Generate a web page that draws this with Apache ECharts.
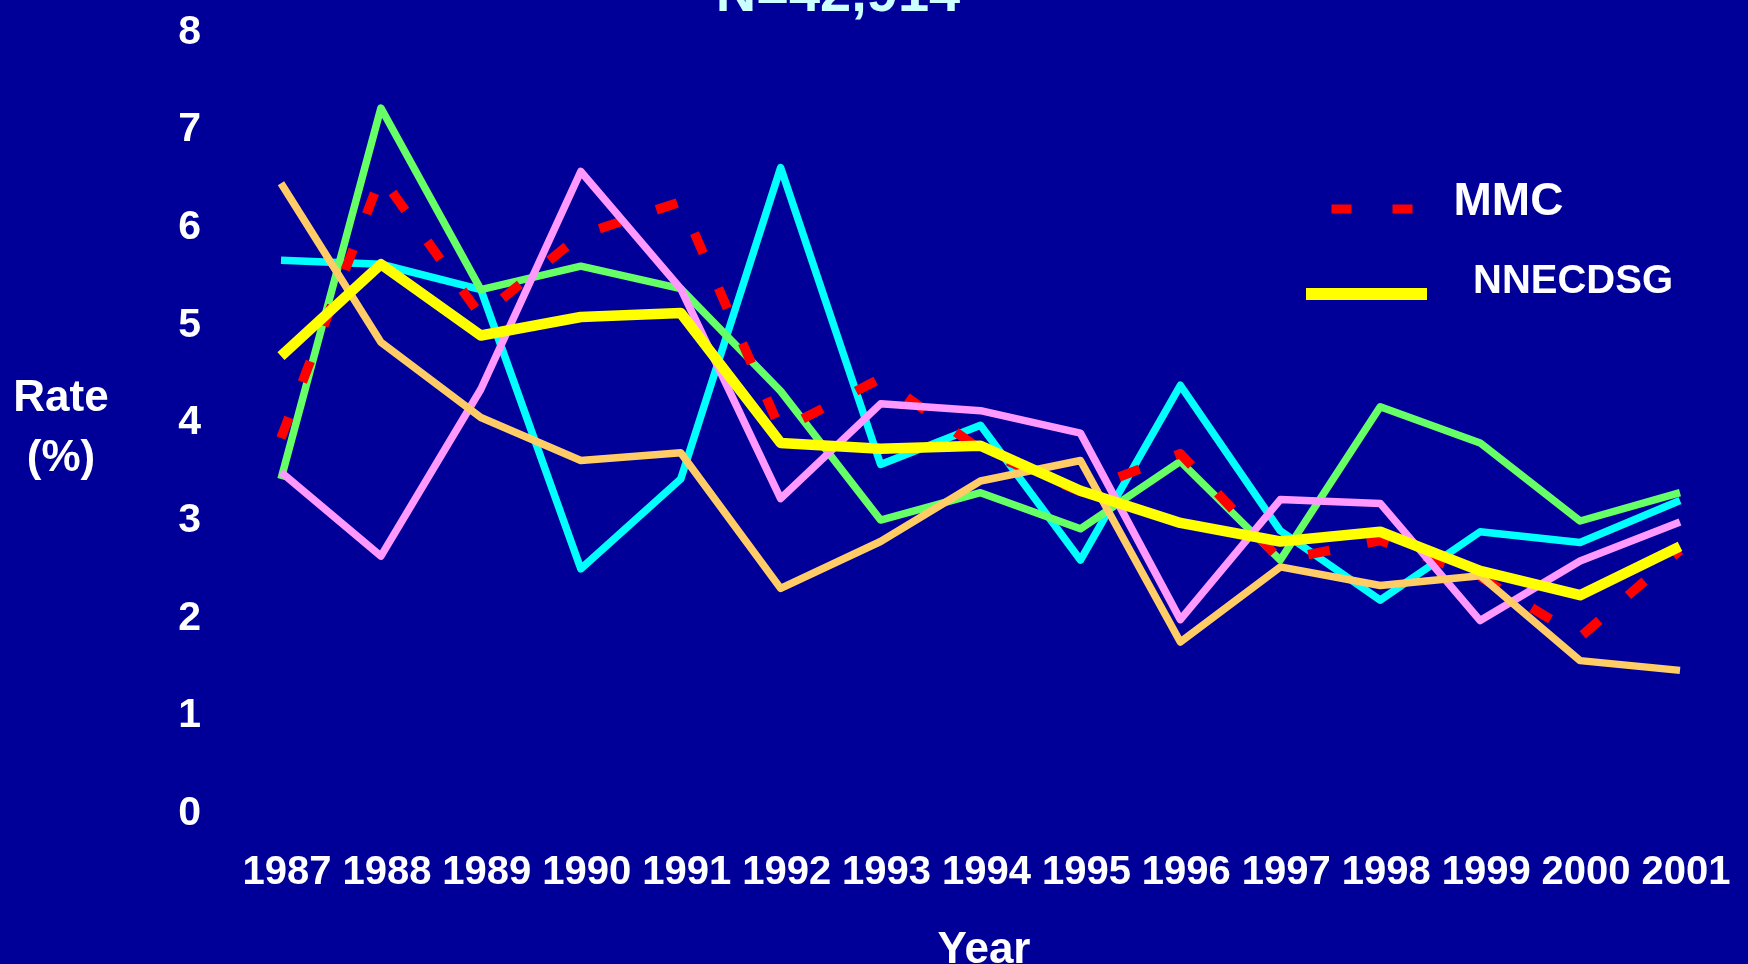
<!DOCTYPE html>
<html>
<head>
<meta charset="utf-8">
<script src="https://cdn.jsdelivr.net/npm/echarts@6/dist/echarts.min.js"></script>
<style>
html,body{margin:0;padding:0;background:#000099;}
#chart{width:1748px;height:964px;}
</style>
</head>
<body>
<div id="chart"></div>
<script>
// ---- data ----
const years = ['1987','1988','1989','1990','1991','1992','1993','1994','1995','1996','1997','1998','1999','2000','2001'];
const yTicks = [0, 1, 2, 3, 4, 5, 6, 7, 8];
const cyanValues   = [5.62, 5.58, 5.32, 2.46, 3.38, 6.57, 3.53, 3.93, 2.55, 4.34, 2.85, 2.14, 2.84, 2.73, 3.16];
const greenValues  = [3.38, 7.18, 5.32, 5.56, 5.33, 4.28, 2.96, 3.24, 2.87, 3.56, 2.55, 4.12, 3.75, 2.95, 3.24];
const pinkValues   = [3.45, 2.59, 4.30, 6.53, 5.33, 3.18, 4.15, 4.08, 3.85, 1.94, 3.17, 3.13, 1.93, 2.54, 2.94];
const orangeValues = [6.41, 4.78, 4.01, 3.57, 3.65, 2.26, 2.74, 3.36, 3.57, 1.71, 2.48, 2.29, 2.39, 1.52, 1.42];
const mmcValues    = [3.80, 6.48, 5.05, 5.88, 6.22, 3.88, 4.41, 3.68, 3.25, 3.64, 2.55, 2.75, 2.38, 1.76, 2.65];
const nnecdsgValues= [4.64, 5.58, 4.85, 5.04, 5.08, 3.75, 3.69, 3.72, 3.26, 2.93, 2.74, 2.84, 2.44, 2.19, 2.69];
const titleText = 'N=42,914';
const legendNames = ['MMC', 'NNECDSG'];

// ---- chart ----
const chart = echarts.init(document.getElementById('chart'));
const FONT = "'Liberation Sans', Arial, Helvetica, sans-serif";
const shadow = {textShadowColor:'#000000', textShadowBlur:0, textShadowOffsetX:2, textShadowOffsetY:2};
const whiteBold = {color: '#ffffff', fontFamily: FONT, fontWeight: 'bold'};

function lineSeries(name, data, color, width, type, z) {
  return {
    name: name, type: 'line', data: data, symbol: 'none', showSymbol: false,
    z: z, silent: true,
    lineStyle: {color: color, width: width, type: type || 'solid', cap: 'butt', join: 'round'},
    itemStyle: {color: color}
  };
}

const option = {
  backgroundColor: '#000099',
  animation: false,
  grid: {left: 281, right: 68, top: 28, bottom: 155, containLabel: false, outerBoundsMode: 'none'},
  graphic: [{
    type: 'text', x: 838, y: -4, silent: true,
    style: {
      text: titleText, align: 'center', verticalAlign: 'middle',
      font: "bold 56px " + FONT, fill: '#ccffff',
      textShadowColor: '#000000', textShadowBlur: 0, textShadowOffsetX: 3, textShadowOffsetY: 3
    }
  }],
  xAxis: {
    type: 'category', data: years, boundaryGap: false,
    axisLine: {show: false}, axisTick: {show: false}, splitLine: {show: false},
    axisLabel: Object.assign({interval: 0, margin: 44, fontSize: 40, padding: [0, 0, 0, 12]}, whiteBold, shadow),
    name: 'Year', nameLocation: 'middle', nameGap: 120,
    nameTextStyle: Object.assign({fontSize: 44, padding: [0, 0, 0, 7]}, whiteBold, shadow)
  },
  yAxis: {
    type: 'value', min: yTicks[0], max: yTicks[yTicks.length - 1], interval: 1,
    axisLine: {show: false}, axisTick: {show: false}, splitLine: {show: false},
    axisLabel: Object.assign({
      margin: 80, fontSize: 41,
      formatter: function (v) { return '{s| }\n{v|' + v + '}'; },
      rich: {
        s: {fontSize: 9, lineHeight: 9},
        v: Object.assign({fontSize: 41, lineHeight: 41}, whiteBold, shadow)
      }
    }, whiteBold, shadow),
    name: '{s| }\n{t|Rate}\n{t|(%)}', nameLocation: 'middle', nameRotate: 0, nameGap: 220,
    nameTextStyle: Object.assign({
      fontSize: 44, align: 'center', verticalAlign: 'middle',
      rich: {
        s: {fontSize: 21, lineHeight: 21},
        t: Object.assign({fontSize: 44, lineHeight: 60, align: 'center'}, whiteBold, shadow)
      }
    }, whiteBold, shadow)
  },
  legend: [
    {
      data: [legendNames[0]], left: 1327, top: 179, padding: 0, orient: 'horizontal',
      itemWidth: 81, itemHeight: 10, selectedMode: false,
      formatter: function (n) { return n + '\n '; },
      itemStyle: {opacity: 0},
      lineStyle: {width: 9, type: [20, 41], cap: 'butt', opacity: 1},
      textStyle: Object.assign({fontSize: 46, lineHeight: 14, padding: [0, 0, 0, 36]}, whiteBold, shadow)
    },
    {
      data: [legendNames[1]], left: 1300, top: 262, padding: 0, orient: 'horizontal',
      itemWidth: 121, itemHeight: 12, selectedMode: false,
      formatter: function (n) { return n + '\n '; },
      itemStyle: {opacity: 0},
      lineStyle: {width: 12, type: 'solid', cap: 'butt', opacity: 1},
      textStyle: Object.assign({fontSize: 40, lineHeight: 24, padding: [0, 0, 0, 41]}, whiteBold, shadow)
    }
  ],
  series: [
    lineSeries('Series 1', cyanValues, '#00ffff', 7.5, 'solid', 2),
    lineSeries('Series 2', greenValues, '#66ff66', 7.5, 'solid', 3),
    lineSeries(legendNames[0], mmcValues, '#ff0000', 9.5, [22, 38], 4),
    lineSeries('Series 3', pinkValues, '#ff99ff', 7.5, 'solid', 5),
    lineSeries('Series 4', orangeValues, '#ffcc66', 7.5, 'solid', 6),
    lineSeries(legendNames[1], nnecdsgValues, '#ffff00', 10.5, 'solid', 7)
  ]
};
chart.setOption(option);
</script>
</body>
</html>
